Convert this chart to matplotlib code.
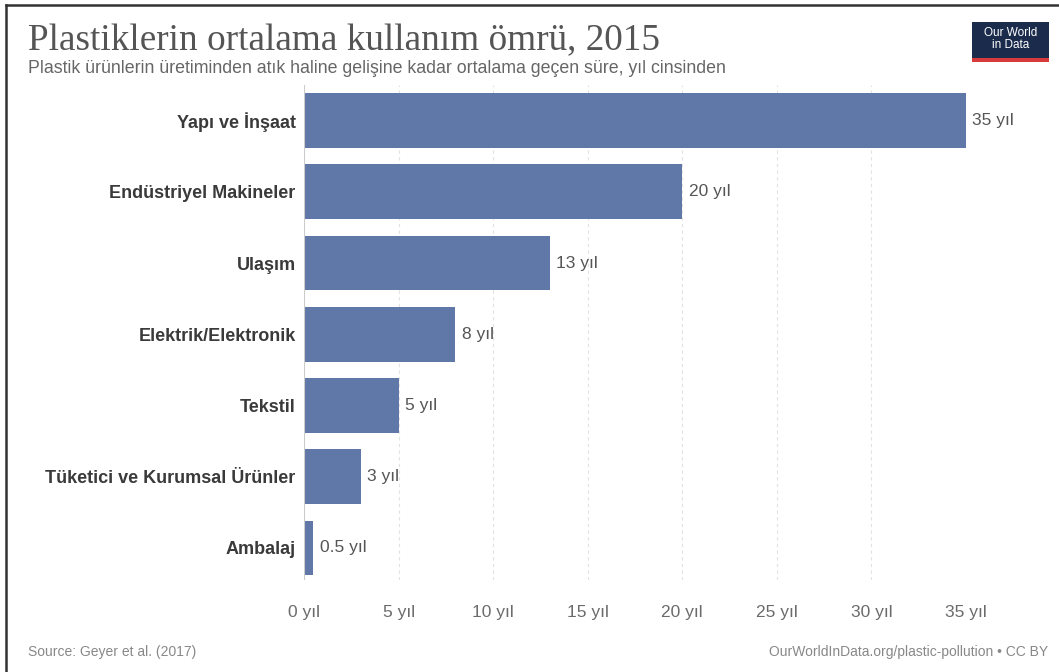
import matplotlib
matplotlib.use("Agg")
import matplotlib.pyplot as plt
from matplotlib.patches import Rectangle
from matplotlib.lines import Line2D

categories = ["Yapı ve İnşaat", "Endüstriyel Makineler", "Ulaşım",
              "Elektrik/Elektronik", "Tekstil", "Tüketici ve Kurumsal Ürünler", "Ambalaj"]
values = [35, 20, 13, 8, 5, 3, 0.5]
value_labels = ["35 yıl", "20 yıl", "13 yıl", "8 yıl", "5 yıl", "3 yıl", "0.5 yıl"]
xticks = [0, 5, 10, 15, 20, 25, 30, 35]
xtick_labels = ["0 yıl", "5 yıl", "10 yıl", "15 yıl", "20 yıl", "25 yıl", "30 yıl", "35 yıl"]

W, H = 1059, 672
fig = plt.figure(figsize=(W / 100, H / 100), dpi=100)
fig.patch.set_facecolor("white")

ax_left, ax_right = 304 / W, 966 / W
ax_top, ax_bot = 1 - 85 / H, 1 - 580 / H
ax = fig.add_axes([ax_left, ax_bot, ax_right - ax_left, ax_top - ax_bot])

ypos = list(range(len(categories)))
ax.barh(ypos, values, height=0.77, color="#6078a8", zorder=3)
ax.set_xlim(0, 35)
ax.set_ylim(6.45, -0.5)
ax.set_yticks(ypos)
ax.set_yticklabels(categories, fontsize=13, fontweight="bold", color="#3a3a3a",
                   family="Liberation Sans")
ax.set_xticks(xticks)
ax.set_xticklabels(xtick_labels, fontsize=12.5, color="#6b6b6b", family="Liberation Sans")
ax.tick_params(axis="y", length=0, pad=6)
ax.tick_params(axis="x", length=0, pad=18)
for s in ax.spines.values():
    s.set_visible(False)
ax.grid(axis="x", color="#e2e2e2", linestyle=(0, (3, 3)), linewidth=0.8, zorder=0)
ax.axvline(0, color="#cccccc", linewidth=0.8, zorder=4)

for y, v, lab in zip(ypos, values, value_labels):
    ax.annotate(lab, (v, y), xytext=(4.5, 0), textcoords="offset points",
                va="center", ha="left", fontsize=12.5, color="#555555",
                family="Liberation Sans")

# Title and subtitle
fig.text(28 / W, 1 - 50 / H, "Plastiklerin ortalama kullanım ömrü, 2015",
         fontsize=26.8, color="#555555", family="Liberation Serif", ha="left", va="baseline")
fig.text(28 / W, 1 - 73 / H,
         "Plastik ürünlerin üretiminden atık haline gelişine kadar ortalama geçen süre, yıl cinsinden",
         fontsize=12.8, color="#666666", family="Liberation Sans", ha="left", va="baseline")

# Footer
fig.text(28 / W, 1 - 656 / H, "Source: Geyer et al. (2017)",
         fontsize=10, color="#888888", family="Liberation Sans", ha="left", va="baseline")
fig.text(1048 / W, 1 - 656 / H, "OurWorldInData.org/plastic-pollution • CC BY",
         fontsize=10, color="#888888", family="Liberation Sans", ha="right", va="baseline")

# Logo
lx0, ly0, lw, lh = 972, 22, 77, 40
fig.add_artist(Rectangle((lx0 / W, 1 - (ly0 + lh) / H), lw / W, lh / H,
                         transform=fig.transFigure, facecolor="#1a2b4c", edgecolor="none"))
fig.add_artist(Rectangle((lx0 / W, 1 - (ly0 + lh) / H), lw / W, 4 / H,
                         transform=fig.transFigure, facecolor="#d73a3a", edgecolor="none"))
fig.text((lx0 + lw / 2) / W, 1 - (ly0 + 17) / H, "Our World\nin Data", fontsize=8.5,
         color="white", ha="center", va="center", family="Liberation Sans", linespacing=1.0)

# Frame lines (left & top)
fig.add_artist(Line2D([6 / W, 6 / W], [0, 1 - 5 / H], transform=fig.transFigure,
                      color="#333333", linewidth=1.8))
fig.add_artist(Line2D([6 / W, 1], [1 - 5 / H, 1 - 5 / H], transform=fig.transFigure,
                      color="#333333", linewidth=1.8))

fig.savefig("out.png", dpi=100)
